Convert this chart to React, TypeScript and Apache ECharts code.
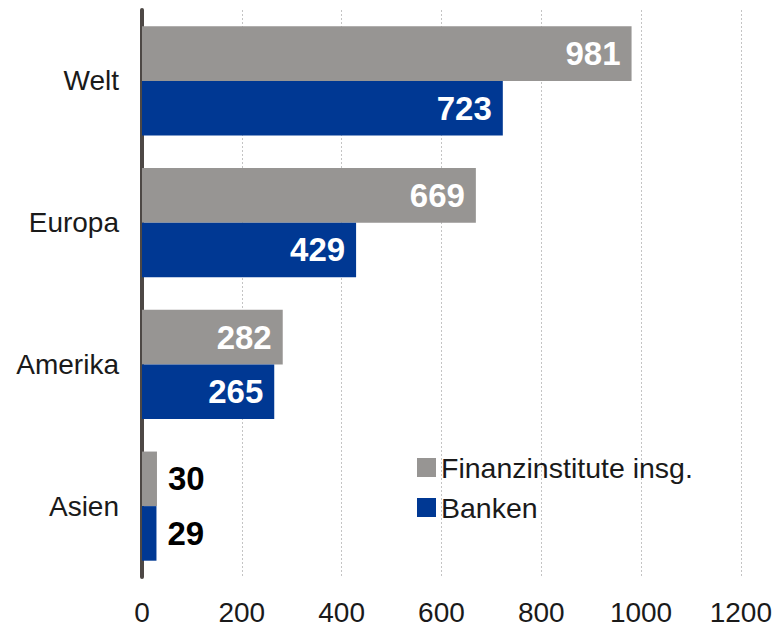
import React, { useEffect, useRef } from "react";
import * as echarts from "echarts";

const categories = ["Welt", "Europa", "Amerika", "Asien"];
const finanzinstitute = [981, 669, 282, 30];
const banken = [723, 429, 265, 29];
const xTicks = { min: 0, max: 1200, interval: 200 };
const seriesNames = ["Finanzinstitute insg.", "Banken"];

const FONT = "'Liberation Sans', Arial, sans-serif";
const GRAY = "#979593";
const BLUE = "#003893";

function toData(values: number[]) {
  return values.map((v, i) =>
    i === values.length - 1
      ? { value: v, label: { position: "right", color: "#000000", distance: 11 } }
      : { value: v }
  );
}

export default function App() {
  const ref = useRef<HTMLDivElement>(null);
  useEffect(() => {
    if (!ref.current) return;
    const chart = echarts.init(ref.current, null, { renderer: "svg" });
    const label = {
      show: true,
      position: "insideRight",
      distance: 11,
      color: "#ffffff",
      fontFamily: FONT,
      fontWeight: "bold",
      fontSize: 33,
    };
    chart.setOption({
      animation: false,
      backgroundColor: "#ffffff",
      grid: { left: 142, right: 33, top: 10, bottom: 55, containLabel: false },
      legend: {
        orient: "vertical",
        left: 412,
        top: 448,
        itemWidth: 19,
        itemHeight: 19,
        itemGap: 11,
        icon: "rect",
        data: seriesNames,
        textStyle: { fontFamily: FONT, fontSize: 28.5, color: "#1a1a1a", lineHeight: 28, padding: [0, 0, 0, 0] },
      },
      xAxis: {
        type: "value",
        min: xTicks.min,
        max: xTicks.max,
        interval: xTicks.interval,
        axisLine: { show: false },
        axisTick: { show: false },
        axisLabel: {
          fontFamily: FONT,
          fontSize: 28,
          color: "#1a1a1a",
          margin: 21,
          formatter: (v: number) => String(v),
        },
        splitLine: { show: true, lineStyle: { color: "#c4c4c4", width: 1, type: [2, 2] } },
      },
      yAxis: {
        type: "category",
        inverse: true,
        data: categories,
        axisLine: { show: true, lineStyle: { color: "#4d4845", width: 4 } },
        axisTick: { show: false },
        axisLabel: { fontFamily: FONT, fontSize: 28, color: "#1a1a1a", margin: 23 },
      },
      series: [
        {
          name: seriesNames[0],
          type: "bar",
          data: toData(finanzinstitute),
          itemStyle: { color: GRAY },
          barGap: "0%",
          barCategoryGap: "23%",
          label,
        },
        {
          name: seriesNames[1],
          type: "bar",
          data: toData(banken),
          itemStyle: { color: BLUE },
          barGap: "0%",
          barCategoryGap: "23%",
          label,
        },
      ],
    });
    return () => chart.dispose();
  }, []);
  return (
    <div
      ref={ref}
      style={{ position: "absolute", left: 0, top: 0, width: 775, height: 632 }}
    />
  );
}
